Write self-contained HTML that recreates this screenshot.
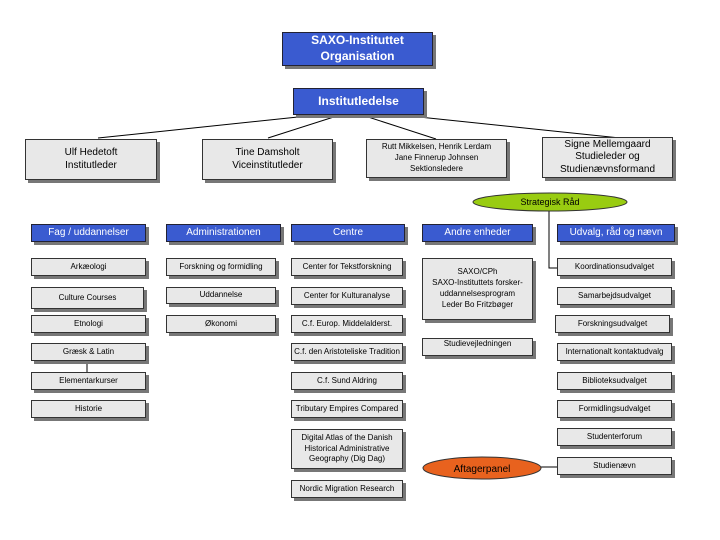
<!DOCTYPE html>
<html><head><meta charset="utf-8"><style>
body{margin:0;width:720px;height:540px;background:#fff;position:relative;overflow:hidden;font-family:"Liberation Sans",sans-serif}
.b{position:absolute;box-sizing:border-box;border:1px solid #333;background:#e8e8e8;box-shadow:3px 3px 0 #777;display:flex;align-items:center;justify-content:center;text-align:center;font-size:8px;color:#000;line-height:1.35}
.h{background:#3a5bd0;color:#fff;font-size:10px;border-color:#223}
.t{font-weight:bold;font-size:12px;line-height:1.3}
.m{font-size:10px;line-height:1.25}
svg{position:absolute;left:0;top:0}
</style></head><body>
<svg width="720" height="540">
<g stroke="#000" stroke-width="1" fill="none">
<line x1="317" y1="115" x2="98" y2="138"/>
<line x1="340" y1="115" x2="268" y2="138"/>
<line x1="362" y1="115" x2="436" y2="139"/>
<line x1="400" y1="115" x2="620" y2="138"/>
<polyline points="549,210 549,268 557,268"/>
<line x1="87" y1="361" x2="87" y2="372"/>
<line x1="541" y1="467" x2="557" y2="467"/>
</g>
<ellipse cx="550" cy="202" rx="77" ry="9" fill="#99cc11" stroke="#333"/>
<text x="550" y="205" font-size="9" text-anchor="middle" font-family="Liberation Sans">Strategisk Råd</text>
<ellipse cx="482" cy="468" rx="59" ry="11" fill="#e8621e" stroke="#333"/>
<text x="482" y="472" font-size="10" text-anchor="middle" font-family="Liberation Sans">Aftagerpanel</text>
</svg>
<div class="b h t" style="left:282px;top:32px;width:151px;height:34px">SAXO-Instituttet<br>Organisation</div>
<div class="b h t" style="left:293px;top:88px;width:131px;height:27px">Institutledelse</div>
<div class="b m" style="left:25px;top:139px;width:132px;height:41px">Ulf Hedetoft<br>Institutleder</div>
<div class="b m" style="left:202px;top:139px;width:131px;height:41px">Tine Damsholt<br>Viceinstitutleder</div>
<div class="b" style="left:366px;top:139px;width:141px;height:39px">Rutt Mikkelsen, Henrik Lerdam<br>Jane Finnerup Johnsen<br>Sektionsledere</div>
<div class="b m" style="left:542px;top:137px;width:131px;height:41px">Signe Mellemgaard<br>Studieleder og<br>Studienævnsformand</div>

<div class="b h" style="left:31px;top:224px;width:115px;height:18px">Fag / uddannelser</div>
<div class="b h" style="left:166px;top:224px;width:115px;height:18px">Administrationen</div>
<div class="b h" style="left:291px;top:224px;width:114px;height:18px">Centre</div>
<div class="b h" style="left:422px;top:224px;width:111px;height:18px">Andre enheder</div>
<div class="b h" style="left:557px;top:224px;width:118px;height:18px">Udvalg, råd og nævn</div>

<div class="b" style="left:31px;top:258px;width:115px;height:18px">Arkæologi</div>
<div class="b" style="left:31px;top:287px;width:113px;height:22px">Culture Courses</div>
<div class="b" style="left:31px;top:315px;width:115px;height:18px">Etnologi</div>
<div class="b" style="left:31px;top:343px;width:115px;height:18px">Græsk &amp; Latin</div>
<div class="b" style="left:31px;top:372px;width:115px;height:18px">Elementarkurser</div>
<div class="b" style="left:31px;top:400px;width:115px;height:18px">Historie</div>

<div class="b" style="left:166px;top:258px;width:110px;height:18px">Forskning og formidling</div>
<div class="b" style="left:166px;top:287px;width:110px;height:17px">Uddannelse</div>
<div class="b" style="left:166px;top:315px;width:110px;height:18px">Økonomi</div>

<div class="b" style="left:291px;top:258px;width:112px;height:18px">Center for Tekstforskning</div>
<div class="b" style="left:291px;top:287px;width:112px;height:18px">Center for Kulturanalyse</div>
<div class="b" style="left:291px;top:315px;width:112px;height:18px">C.f. Europ. Middelalderst.</div>
<div class="b" style="left:291px;top:343px;width:112px;height:18px">C.f. den Aristoteliske Tradition</div>
<div class="b" style="left:291px;top:372px;width:112px;height:18px">C.f. Sund Aldring</div>
<div class="b" style="left:291px;top:400px;width:112px;height:18px">Tributary Empires Compared</div>
<div class="b" style="left:291px;top:429px;width:112px;height:40px">Digital Atlas of the Danish<br>Historical Administrative<br>Geography (Dig Dag)</div>
<div class="b" style="left:291px;top:480px;width:112px;height:18px">Nordic Migration Research</div>

<div class="b" style="left:422px;top:258px;width:111px;height:62px">SAXO/CPh<br>SAXO-Instituttets forsker-<br>uddannelsesprogram<br>Leder Bo Fritzbøger</div>
<div class="b" style="left:422px;top:338px;width:111px;height:18px;align-items:flex-start">Studievejledningen</div>

<div class="b" style="left:557px;top:258px;width:115px;height:18px">Koordinationsudvalget</div>
<div class="b" style="left:557px;top:287px;width:115px;height:18px">Samarbejdsudvalget</div>
<div class="b" style="left:555px;top:315px;width:115px;height:18px">Forskningsudvalget</div>
<div class="b" style="left:557px;top:343px;width:115px;height:18px">Internationalt kontaktudvalg</div>
<div class="b" style="left:557px;top:372px;width:115px;height:18px">Biblioteksudvalget</div>
<div class="b" style="left:557px;top:400px;width:115px;height:18px">Formidlingsudvalget</div>
<div class="b" style="left:557px;top:428px;width:115px;height:18px">Studenterforum</div>
<div class="b" style="left:557px;top:457px;width:115px;height:18px">Studienævn</div>
</body></html>
